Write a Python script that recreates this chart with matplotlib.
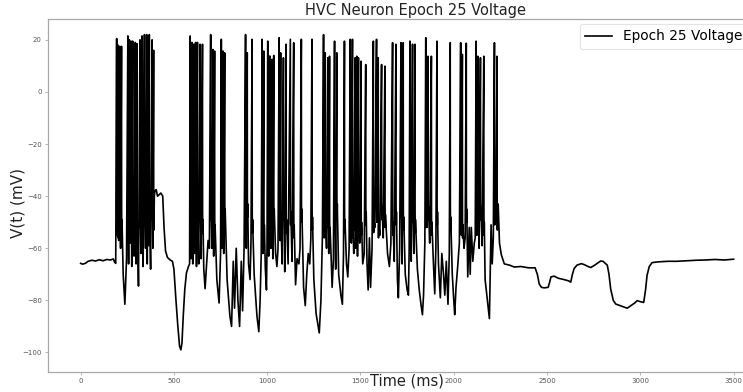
import matplotlib
matplotlib.use("Agg")
import matplotlib.pyplot as plt
import numpy as np

# Somatic spikes: time (ms), peak voltage (mV) and post-spike shoulder (mV)
spike_t = [193, 200, 209, 219, 253, 261, 270, 279, 293, 302, 318, 329, 342, 354, 360, 368, 383, 391,
           587, 596, 606, 616, 626, 640, 653, 697, 709, 718, 754, 763, 772, 884, 893, 919,
           973, 982, 1003, 1014, 1026, 1035, 1064, 1072, 1087, 1101, 1124, 1142, 1183, 1240,
           1302, 1311, 1325, 1334, 1361, 1373, 1414, 1445, 1457, 1471, 1480, 1489, 1503, 1528,
           1569, 1586, 1595, 1613, 1631, 1672, 1690, 1717, 1729, 1765, 1779, 1792, 1850, 1862,
           1880, 1910, 1981, 2037, 2046, 2067, 2120, 2129, 2143, 2161, 2218, 2232]
spike_peak = [20.5, 18, 17.5, 17.5, 21.5, 20, 19.5, 19.5, 19, 18.5, 20, 21.5, 22, 22, 21.5, 22, 20, 16,
              21.5, 19, 18.3, 19, 19, 18.3, 18.3, 22, 16.3, 15.7, 20.2, 15.7, 15, 22, 15, 20.2,
              20.2, 15.7, 19.5, 13.8, 12.5, 14, 20.8, 15, 13.1, 18.3, 20.2, 18.9, 20.2, 20.2,
              22, 15, 13.1, 13.7, 19.5, 15, 19.5, 20.2, 20.2, 13.1, 13.7, 13.1, 11.8, 10.5,
              19.5, 20.2, 13.1, 10.5, 9.9, 18.9, 18.3, 18.9, 18.9, 19.5, 18.3, 18.3, 20.8, 13.7,
              13.7, 19.5, 18.9, 18.9, 14.4, 18.7, 19.5, 13.7, 13.1, 13.7, 18.9, 13.7]
spike_shoulder = [-44, -48, -42, -46, -40, -45, -49, -43, -41, -47, -44, -50, -42, -46, -43, -48, -41, -45,
                  -44, -40, -47, -43, -49, -42, -46, -41, -45, -48, -43, -47, -42, -44, -40, -46,
                  -43, -48, -41, -45, -47, -42, -44, -49, -40, -46, -43, -48, -42, -45,
                  -41, -47, -44, -49, -43, -40, -46, -42, -48, -45, -41, -44, -47, -43,
                  -46, -42, -48, -41, -44, -47, -43, -40, -45, -49, -42, -46, -44, -41,
                  -47, -43, -45, -40, -48, -42, -46, -44, -41, -47, -43, -45]

# Subthreshold membrane potential between spikes: time (ms) and voltage (mV)
sub_t = [0, 10, 25, 40, 60, 80, 100, 120, 140, 160, 175, 182, 188,
         196, 204, 214, 228, 237, 246, 257, 265, 274, 286, 297, 310, 323, 335, 348, 357, 364, 375, 387,
         395, 398, 405, 412, 420, 430, 440, 447, 455, 465, 480, 492, 500, 510, 520, 530, 537, 543,
         550, 558, 567, 578, 584,
         591, 601, 611, 621, 633, 646, 660, 667, 675, 683, 690,
         703, 713, 730, 742, 750, 758, 767,
         785, 800, 809, 818, 825, 834, 843, 852, 861, 868, 876,
         888, 900, 908, 913, 930, 945, 955, 962, 968,
         977, 990, 996, 999, 1008, 1020, 1030, 1045, 1052, 1058,
         1068, 1080, 1094, 1112, 1133, 1152, 1160, 1170, 1176, 1195, 1204, 1212, 1220, 1228, 1234,
         1250, 1262, 1279, 1288, 1296,
         1306, 1318, 1330, 1342, 1348, 1355, 1367, 1383, 1395, 1403, 1409,
         1425, 1432, 1439, 1451, 1464, 1476, 1484, 1496, 1512, 1520, 1535, 1541, 1548, 1554, 1562,
         1577, 1590, 1604, 1622, 1645, 1655, 1663, 1681, 1698, 1703, 1710, 1723, 1740, 1750, 1757,
         1761, 1772, 1786, 1805, 1815, 1825, 1832, 1838, 1845, 1856, 1871, 1890, 1898, 1904,
         1918, 1928, 1936, 1945, 1952, 1960, 1969, 1976,
         1992, 2000, 2005, 2012, 2021, 2030, 2041, 2055, 2061, 2075, 2083, 2088, 2094, 2102, 2110,
         2115, 2124, 2136, 2152, 2168, 2180, 2191, 2200, 2206, 2212, 2225,
         2238, 2245, 2255, 2271, 2300, 2324, 2360, 2400, 2436, 2448, 2458, 2470, 2485, 2506, 2514,
         2521, 2538, 2560, 2590, 2615, 2627, 2636, 2645, 2660, 2684, 2700, 2720, 2734, 2755, 2775,
         2787, 2800, 2815, 2823, 2832, 2841, 2855, 2868, 2890, 2910, 2930, 2950, 2970, 2983, 3000,
         3018, 3028, 3036, 3048, 3063, 3100, 3150, 3196, 3250, 3300, 3350, 3400, 3450, 3500]
sub_v = [-65.8, -66.1, -65.8, -65.0, -64.6, -64.9, -64.4, -64.8, -64.3, -64.5, -64.1, -65.3, -65.8,
         -55, -57, -60, -70, -81.5, -64, -66, -58, -67, -63, -66, -74.5, -62, -67, -60, -66, -59, -68, -60,
         -40, -38, -37.5, -40, -39.5, -38.8, -40, -52, -61, -63.5, -64.5, -65, -68, -79, -89, -97.5, -99, -96.5,
         -86, -76, -69.5, -67, -66,
         -64, -66, -62, -67, -66, -64, -68, -75.5, -66, -57, -60,
         -60, -63, -72, -81, -62, -60, -62,
         -72, -86, -90, -65, -83, -60, -80, -90, -65, -84, -60,
         -60, -66, -72, -58, -70, -86, -92, -80, -62,
         -62, -68, -76, -60, -63, -60, -64, -62, -67, -60,
         -57, -66, -69, -66, -65, -74, -64, -66, -60, -75, -82, -70, -62, -66, -56,
         -72, -85, -92.5, -80, -55,
         -56, -60, -62, -62, -75, -64, -68, -70, -78, -81.5, -62,
         -66, -71, -60, -58, -62, -60, -63, -58, -66, -62, -66, -76, -56, -75, -60,
         -52, -50, -55, -56, -62, -67, -58, -65, -72, -79, -60, -66, -70, -76, -78,
         -60, -65, -62, -68, -76, -82, -85.5, -78, -58, -52, -58, -64, -77.5, -60,
         -66, -79, -62, -70, -78, -65, -81.5, -62,
         -70, -80, -85.5, -75, -67, -58, -55, -60, -56, -71, -52, -70, -52, -65, -58,
         -56, -55, -60, -59, -72, -80, -87, -51, -66, -56, -50,
         -43, -58, -62.5, -66, -66.5, -67.2, -67, -67.5, -67.5, -70, -73.7, -75, -75.2, -75, -73,
         -71, -70.7, -71.5, -72, -72.5, -73, -70, -67.8, -66.5, -65.9, -66.3, -67, -67.4, -66.5, -65.5,
         -64.9, -65, -66, -66.5, -70, -75.6, -80, -81.4, -82, -82.5, -83, -82, -81, -80.1, -80.5,
         -80.8, -76, -70.4, -67, -65.5, -65.2, -65, -65, -64.8, -64.6, -64.5, -64.3, -64.5, -64.2]

# Spike downstroke: time offsets (ms) after the peak and depth below the shoulder (mV)
fall_dt = [0.7, 1.6, 2.6]
fall_drop = [0, -8, -3]

times = list(sub_t)
volts = list(sub_v)
for ts, vp, vs in zip(spike_t, spike_peak, spike_shoulder):
    times.append(ts)
    volts.append(vp)
    for dt, dv in zip(fall_dt, fall_drop):
        times.append(ts + dt)
        volts.append(vs + dv)
order = np.argsort(times, kind="stable")
t_all = np.asarray(times, dtype=float)[order]
v_all = np.asarray(volts, dtype=float)[order]

fig = plt.figure(figsize=(7.43, 3.92), dpi=100)
ax = fig.add_axes([0.0646, 0.051, 0.9667, 0.9005])

ax.plot(t_all, v_all, color="black", linewidth=1.2, label="Epoch 25 Voltage")

ax.set_xlim(-175, 3675)
ax.set_ylim(-107.5, 28)
ax.set_xticks([0, 500, 1000, 1500, 2000, 2500, 3000, 3500])
ax.set_yticks([20, 0, -20, -40, -60, -80, -100])

for side in ["left", "bottom", "top", "right"]:
    ax.spines[side].set_color("#a8a8a8")
    ax.spines[side].set_linewidth(0.9)
ax.tick_params(axis="both", labelsize=5, colors="#a8a8a8", labelcolor="#555555",
               length=2.5, width=0.6, pad=2)

ax.set_title("HVC Neuron Epoch 25 Voltage", fontsize=10.5, color="#222222", pad=3, x=0.511)
ax.set_xlabel("Time (ms)", fontsize=10.5, color="#222222")
ax.set_ylabel("V(t) (mV)", fontsize=11, color="#222222")
ax.xaxis.set_label_coords(0.5, -0.004)
ax.yaxis.set_label_coords(-0.031, 0.48)

leg = ax.legend(loc="upper right", fontsize=9.8, frameon=True, fancybox=True,
                bbox_to_anchor=(0.9747, 0.986), borderaxespad=0)
leg.get_frame().set_edgecolor("#dddddd")
leg.get_frame().set_linewidth(0.8)

fig.savefig("out.png", dpi=100)
